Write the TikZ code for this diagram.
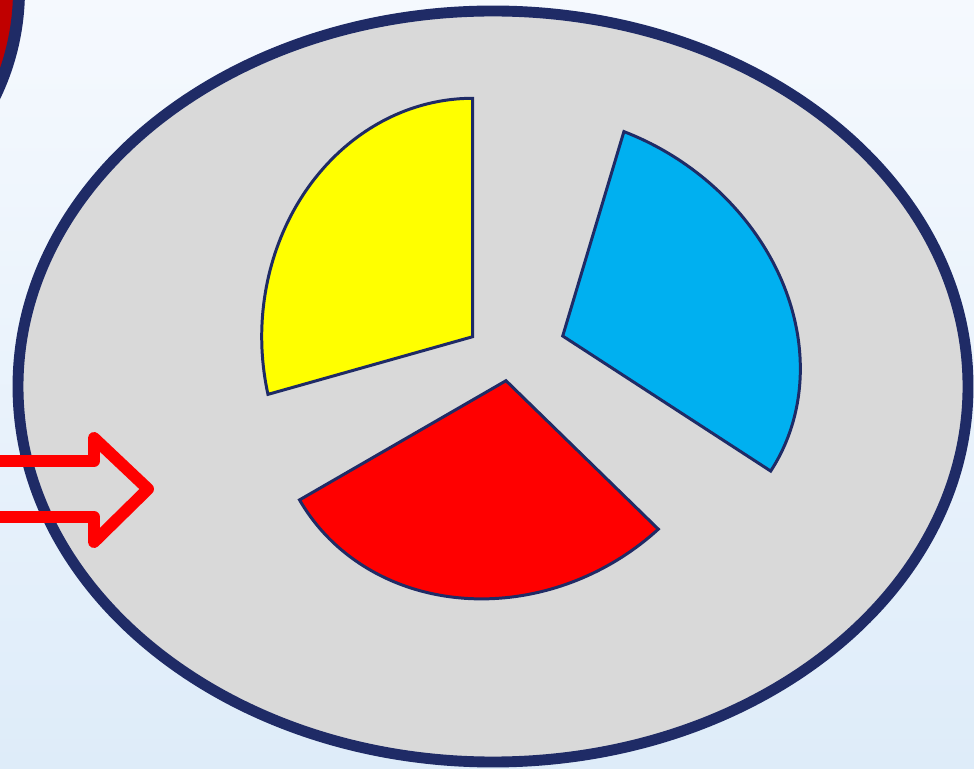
\documentclass[tikz,border=0pt]{standalone}
\usepackage{tikz}
\usepackage{xcolor}
\definecolor{navy}{RGB}{31,43,102}
\definecolor{plate}{RGB}{217,217,217}
\definecolor{skyblue}{RGB}{0,176,240}
\definecolor{lemon}{RGB}{255,255,0}
\definecolor{brightred}{RGB}{255,0,0}
\definecolor{darkred}{RGB}{192,0,0}
\definecolor{bgtop}{RGB}{245,249,254}
\definecolor{bgmid}{RGB}{232,242,251}
\definecolor{bgbot}{RGB}{222,236,249}

\begin{document}
\begin{tikzpicture}[line cap=round,
  slice/.style={draw=navy,line width=0.85pt,line join=miter}]
\useasboundingbox (0,0) rectangle (9.74,7.68);
\begin{scope}
\clip (0,0) rectangle (9.74,7.68);
\shade[top color=bgtop,middle color=bgmid,bottom color=bgbot] (0,0) rectangle (9.74,7.68);
\draw[navy,line width=3.4pt,fill=darkred] (-2.26,7.78) circle (2.45);
\draw[navy,line width=3.1pt,fill=plate] (4.93,3.815) ellipse (4.75 and 3.755);
% hollow arrow
\draw[brightred,line width=3.4pt,line join=round] (-0.2,3.07) -- (0.94,3.07) -- (0.94,3.30) -- (1.48,2.79) -- (0.94,2.26) -- (0.94,2.51) -- (-0.2,2.51);
\end{scope}
% slice tips
\coordinate (yellowtip) at (4.727,4.313);
\coordinate (redtip) at (5.06,3.873);
\coordinate (bluetip) at (5.627,4.32);
\draw[slice,fill=lemon] (yellowtip) -- ++(0,2.384) arc[start angle=90,end angle=194,x radius=2.11,y radius=2.384] -- cycle;
\begin{scope}[shift={(redtip)},rotate=120]
\draw[slice,fill=brightred] (0,0) -- (0,2.384) arc[start angle=90,end angle=194,x radius=2.11,y radius=2.384] -- cycle;
\end{scope}
\begin{scope}[shift={(bluetip)},rotate=-123]
\draw[slice,fill=skyblue] (0,0) -- (0,2.48) arc[start angle=90,end angle=194,x radius=2.11,y radius=2.48] -- cycle;
\end{scope}
\end{tikzpicture}
\end{document}
